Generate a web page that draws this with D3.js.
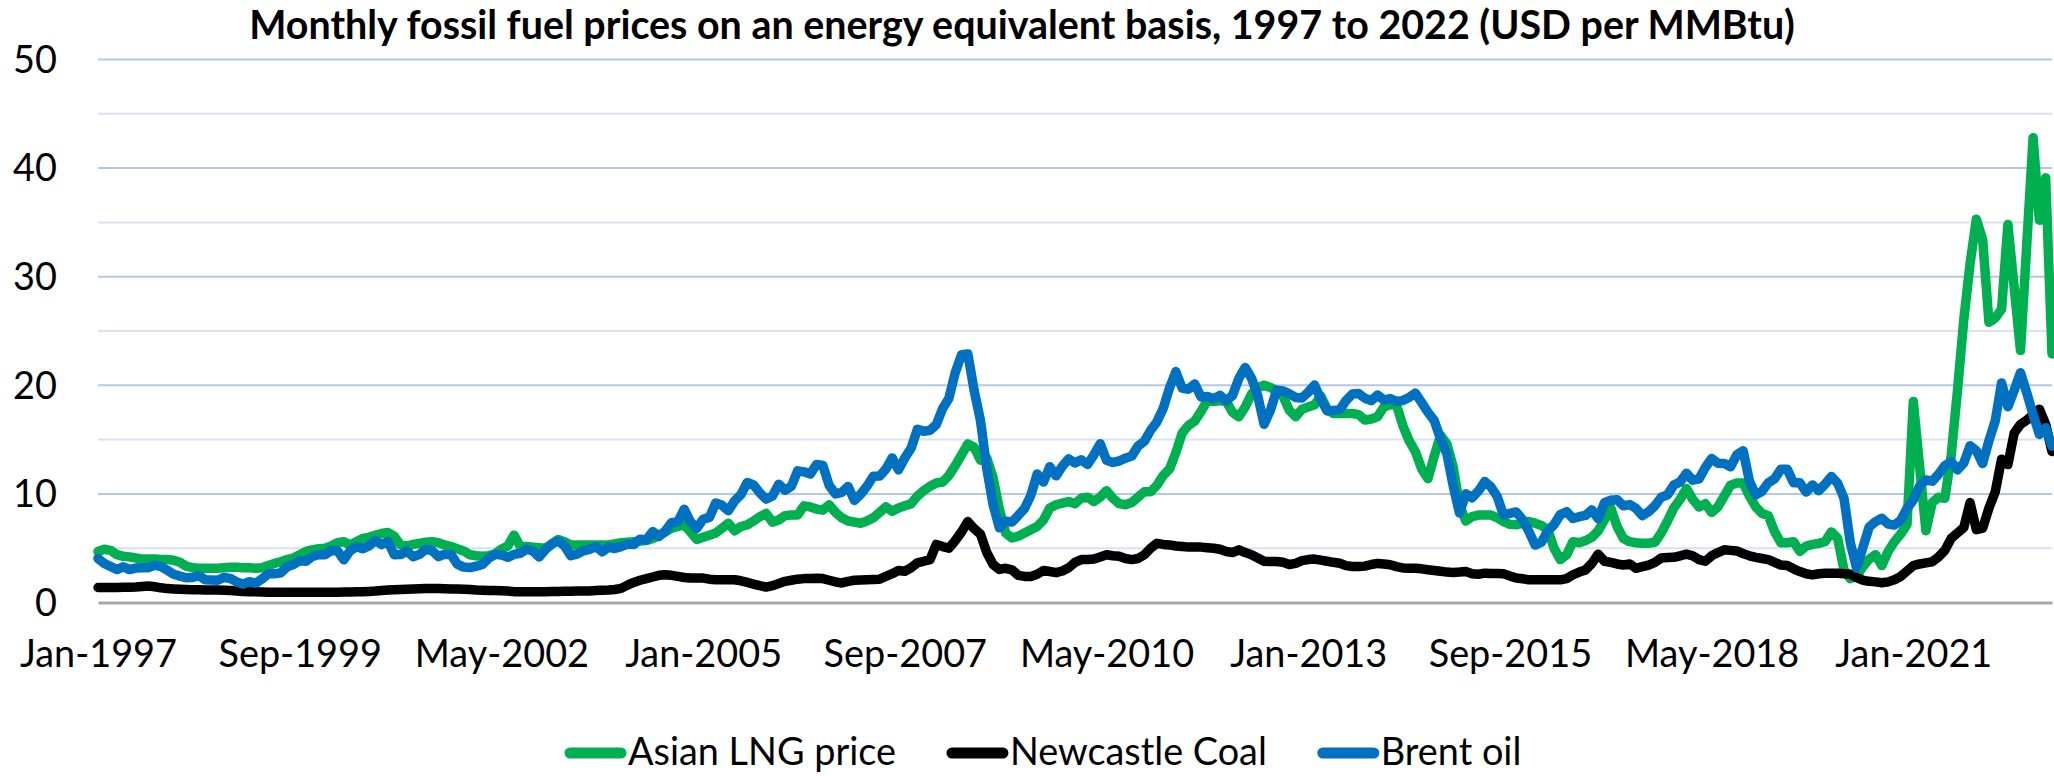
<!DOCTYPE html>
<html><head><meta charset="utf-8">
<script src="https://cdn.jsdelivr.net/npm/d3@7/dist/d3.min.js"></script>
<style>
html,body{margin:0;padding:0;background:#fff;}
svg{display:block;}
text{font-family:Lato,"Open Sans",sans-serif;fill:#000;}
</style></head><body>
<svg id="chart" width="2054" height="776"></svg>
<script>
const titleText = "Monthly fossil fuel prices on an energy equivalent basis, 1997 to 2022 (USD per MMBtu)";
const seriesNames = ["Asian LNG price", "Newcastle Coal", "Brent oil"];
const seriesColors = ["#00B050", "#000000", "#0070C0"];
const yTicks = [0, 10, 20, 30, 40, 50];
const xTickLabels = ["Jan-1997","Sep-1999","May-2002","Jan-2005","Sep-2007","May-2010","Jan-2013","Sep-2015","May-2018","Jan-2021"];

// Monthly values, Jan-1997 .. Nov-2022 (USD per MMBtu)
const lng = [
4.69,4.9,4.8,4.4,4.25,4.2,4.1,4.0,4.0,4.0,3.95,3.95,
3.9,3.7,3.35,3.2,3.15,3.15,3.15,3.15,3.2,3.25,3.25,3.2,
3.2,3.15,3.2,3.4,3.6,3.75,3.95,4.1,4.4,4.7,4.85,4.95,
5.0,5.2,5.5,5.6,5.3,5.6,5.9,6.0,6.2,6.35,6.45,6.1,
5.3,5.2,5.35,5.45,5.55,5.6,5.5,5.3,5.15,4.95,4.75,4.4,
4.3,4.25,4.3,4.5,4.9,5.2,6.2,5.15,5.15,5.1,5.05,5.0,
5.4,5.8,5.6,5.3,5.3,5.3,5.3,5.3,5.3,5.3,5.4,5.5,
5.55,5.6,5.65,5.7,5.9,6.2,6.5,6.85,7.0,7.15,6.5,5.8,
6.0,6.2,6.4,6.84,7.3,6.6,7.0,7.15,7.5,7.9,8.2,7.4,
7.6,8.0,8.05,8.05,8.9,8.8,8.6,8.5,9.0,8.3,7.8,7.5,
7.4,7.3,7.5,7.8,8.3,8.8,8.4,8.7,8.9,9.1,9.8,10.3,
10.7,11.0,11.1,11.7,12.6,13.6,14.6,14.3,13.1,13.3,11.5,8.6,
6.4,5.95,6.1,6.4,6.7,7.0,7.6,8.7,9.0,9.15,9.3,9.1,
9.6,9.7,9.3,9.7,10.3,9.6,9.1,9.0,9.2,9.7,10.2,10.2,
10.8,11.7,12.3,13.8,15.6,16.3,16.7,17.6,18.6,18.5,18.6,18.5,
17.5,17.1,18.0,19.2,19.8,20.0,19.8,19.5,19.0,17.7,17.1,17.8,
18.0,18.2,19.0,17.8,17.4,17.4,17.4,17.4,17.3,16.8,16.9,17.1,
18.0,18.2,18.2,16.3,14.9,13.9,12.3,11.4,13.5,15.4,14.6,12.5,
9.0,7.5,7.9,8.05,8.05,8.05,7.8,7.45,7.2,7.15,7.3,7.45,
7.3,7.1,6.7,5.0,3.95,4.4,5.6,5.5,5.7,6.0,6.6,7.6,
8.7,7.0,5.9,5.6,5.5,5.46,5.46,5.55,6.4,7.5,8.7,9.5,
10.5,9.5,8.8,9.1,8.3,8.8,9.8,10.8,11.0,11.0,9.8,8.8,
8.2,8.0,6.5,5.5,5.5,5.6,4.7,5.2,5.35,5.45,5.6,6.5,
5.9,3.0,2.2,2.4,3.3,4.0,4.4,3.4,4.7,5.6,6.3,7.2,
18.5,12.5,6.6,9.2,9.7,9.6,13.5,19.5,26.0,31.2,35.3,33.4,
25.8,26.2,27.0,34.8,29.0,23.2,33.0,42.8,35.2,39.1,22.9
];
const coal = [
1.38,1.38,1.38,1.38,1.40,1.40,1.42,1.48,1.52,1.45,1.35,1.28,
1.25,1.22,1.20,1.18,1.17,1.15,1.15,1.14,1.12,1.10,1.05,1.02,
1.00,0.98,0.96,0.95,0.95,0.95,0.95,0.95,0.95,0.95,0.95,0.95,
0.95,0.95,0.95,0.96,0.97,0.98,1.00,1.02,1.05,1.10,1.15,1.18,
1.20,1.22,1.25,1.26,1.28,1.28,1.28,1.27,1.25,1.25,1.22,1.20,
1.15,1.12,1.10,1.10,1.08,1.05,1.00,0.98,0.98,1.00,1.00,1.00,
1.02,1.02,1.03,1.03,1.05,1.05,1.07,1.10,1.12,1.15,1.20,1.30,
1.60,1.85,2.05,2.20,2.35,2.50,2.55,2.50,2.40,2.30,2.25,2.25,
2.25,2.15,2.10,2.10,2.10,2.10,2.00,1.85,1.70,1.55,1.42,1.55,
1.75,1.95,2.05,2.15,2.20,2.22,2.24,2.20,2.05,1.90,1.80,1.95,
2.05,2.08,2.10,2.12,2.15,2.40,2.65,2.95,2.88,3.20,3.65,3.80,
3.95,5.35,5.15,5.00,5.70,6.50,7.45,6.80,6.30,4.60,3.50,3.05,
3.15,3.00,2.50,2.40,2.40,2.60,2.95,2.85,2.75,2.90,3.20,3.70,
3.95,3.95,4.00,4.20,4.40,4.30,4.25,4.05,3.95,4.05,4.40,5.00,
5.45,5.35,5.30,5.20,5.15,5.10,5.10,5.10,5.05,5.00,4.90,4.70,
4.60,4.85,4.60,4.40,4.10,3.80,3.78,3.78,3.70,3.50,3.60,3.85,
3.95,4.00,3.90,3.80,3.70,3.62,3.40,3.31,3.31,3.35,3.50,3.60,
3.55,3.47,3.30,3.18,3.16,3.16,3.10,3.02,2.95,2.88,2.80,2.77,
2.80,2.85,2.65,2.60,2.70,2.68,2.66,2.64,2.45,2.25,2.18,2.10,
2.09,2.09,2.09,2.09,2.09,2.20,2.55,2.80,3.00,3.60,4.45,3.80,
3.70,3.55,3.45,3.55,3.15,3.30,3.45,3.70,4.10,4.15,4.16,4.30,
4.45,4.30,3.95,3.80,4.30,4.60,4.85,4.80,4.75,4.50,4.30,4.15,
4.05,3.95,3.70,3.45,3.40,3.10,2.85,2.65,2.55,2.65,2.70,2.70,
2.70,2.65,2.60,2.30,2.05,1.95,1.90,1.82,1.90,2.10,2.40,2.90,
3.40,3.55,3.65,3.75,4.20,4.80,5.90,6.40,6.90,9.20,6.70,6.85,
8.70,10.20,13.20,12.70,15.60,16.40,16.80,17.30,17.80,16.40,13.90
];
const brent = [
4.05,3.60,3.31,3.03,3.29,3.03,3.17,3.21,3.21,3.45,3.31,2.97,
2.60,2.43,2.28,2.31,2.48,2.09,2.07,2.05,2.31,2.21,1.90,1.69,
1.91,1.78,2.16,2.64,2.64,2.74,3.29,3.50,3.88,3.79,4.24,4.40,
4.40,4.79,4.74,3.93,4.76,5.14,4.95,5.21,5.71,5.33,5.62,4.40,
4.41,4.74,4.22,4.43,4.90,4.78,4.22,4.45,4.43,3.53,3.26,3.22,
3.34,3.50,4.09,4.43,4.38,4.16,4.43,4.53,4.90,4.74,4.19,4.88,
5.38,5.66,5.22,4.31,4.45,4.76,4.90,5.14,4.67,5.10,4.97,5.14,
5.38,5.33,5.83,5.76,6.53,6.07,6.59,7.36,7.45,8.59,7.43,6.83,
7.67,7.84,9.16,8.95,8.45,9.36,9.93,11.05,10.83,10.09,9.52,9.81,
10.88,10.34,10.71,12.12,12.03,11.83,12.71,12.62,10.78,10.00,10.14,10.69,
9.40,9.97,10.71,11.62,11.64,12.29,13.31,12.21,13.31,14.21,15.95,15.76,
15.86,16.38,17.86,18.81,21.17,22.81,22.88,19.52,16.76,12.34,9.03,6.88,
7.48,7.41,8.02,8.66,9.88,11.83,11.10,12.50,11.67,12.55,13.22,12.84,
13.14,12.72,13.59,14.62,13.09,12.90,13.03,13.29,13.48,14.40,14.84,15.86,
16.64,17.88,19.76,21.26,19.74,19.64,20.12,18.93,18.97,18.76,19.07,18.57,
19.07,20.64,21.64,20.66,19.02,16.41,17.69,19.55,19.48,19.22,18.88,18.83,
19.36,20.02,18.71,17.64,17.69,17.74,18.60,19.19,19.24,18.81,18.59,19.10,
18.64,18.78,18.53,18.59,18.88,19.28,18.41,17.52,16.74,15.07,13.69,10.74,
8.24,10.02,9.64,10.26,11.14,10.64,9.74,8.02,8.21,8.34,7.64,6.55,
5.29,5.55,6.59,7.17,8.09,8.36,7.74,7.90,8.03,8.53,7.72,9.19,
9.41,9.47,8.90,9.02,8.67,8.00,8.36,8.91,9.69,9.91,10.81,11.10,
11.91,11.26,11.38,12.43,13.26,12.83,12.81,12.50,13.60,13.97,11.17,9.90,
10.24,11.03,11.40,12.28,12.26,11.03,11.02,10.17,10.83,10.29,10.90,11.60,
10.98,9.60,5.52,3.17,5.07,6.95,7.45,7.76,7.22,7.14,7.57,8.66,
9.45,10.74,11.28,11.17,11.81,12.60,12.97,12.21,12.84,14.43,13.98,12.79,
14.91,16.74,20.22,18.03,19.53,21.16,19.29,17.33,15.48,16.09,14.40
];

const months = d3.timeMonth.range(new Date(1997, 0, 1), new Date(2022, 11, 1)).map(d3.timeFormat("%b-%Y"));
const seriesValues = [lng, coal, brent];

const svg = d3.select("#chart");
const L = 98, R = 2052, T = 59.5, B = 602.5;
const x = d3.scalePoint().domain(months).range([L, R]);
const y = d3.scaleLinear().domain([0, 50]).range([B, T]);

function fit(sel, target) {
  const w = sel.node().getComputedTextLength();
  const fs = parseFloat(sel.style("font-size"));
  const nf = fs * target / w;
  sel.style("font-size", nf + "px");
  return nf;
}

// gridlines
const gridVals = d3.range(5, 51, 5);
svg.append("g").selectAll("line").data(gridVals).join("line")
  .attr("x1", L).attr("x2", R)
  .attr("y1", d => y(d)).attr("y2", d => y(d))
  .attr("stroke", d => d % 10 === 0 ? "#B4C7E7" : "#D9E2F3")
  .attr("stroke-width", 2);

// title
const title = svg.append("text").attr("x", 1022).attr("y", 39)
  .attr("text-anchor", "middle").style("font-weight", "bold").style("font-size", "38px").text(titleText);
fit(title, 1546);

// measure label font size
const probe = svg.append("text").style("font-size", "40px").text("Jan-1997");
const labelFs = fit(probe, 157);
probe.remove();

// y labels
svg.append("g").selectAll("text").data(yTicks).join("text")
  .attr("x", 57).attr("y", d => y(d)).attr("dy", "0.35em")
  .attr("text-anchor", "end").style("font-size", labelFs + "px").text(d => d);

// x axis
const xAxis = d3.axisBottom(x).tickValues(xTickLabels).tickSize(0).tickSizeOuter(0)
  .tickPadding(667 - B - 0.71 * labelFs);
const gx = svg.append("g").attr("transform", `translate(0,${B})`).call(xAxis);
gx.select(".domain").attr("stroke", "#A6A6A6").attr("stroke-width", 3);
gx.selectAll("text").style("font-size", labelFs + "px").style("font-family", "Lato,'Open Sans',sans-serif").attr("fill", "#000");

// lines
const line = d3.line().x((d, i) => x(months[i])).y(d => y(d)).curve(d3.curveLinear);
svg.append("g").selectAll("path").data(seriesValues).join("path")
  .attr("d", d => line(d))
  .attr("fill", "none")
  .attr("stroke", (d, i) => seriesColors[i])
  .attr("stroke-width", 9.5)
  .attr("stroke-linejoin", "round")
  .attr("stroke-linecap", "round");

// legend
const lg = svg.append("g");
let cx = 565;
const legFsProbe = lg.append("text").style("font-size", "40px").text(seriesNames[0]);
const legFs = fit(legFsProbe, 268);
legFsProbe.remove();
seriesNames.forEach((name, i) => {
  lg.append("line").attr("x1", cx + 5).attr("x2", cx + 56).attr("y1", 753).attr("y2", 753)
    .attr("stroke", seriesColors[i]).attr("stroke-width", 11).attr("stroke-linecap", "round");
  const t = lg.append("text").attr("x", cx + 63).attr("y", 765).style("font-size", legFs + "px").text(name);
  cx = cx + 63 + t.node().getComputedTextLength() + 51;
});
</script>
</body></html>
